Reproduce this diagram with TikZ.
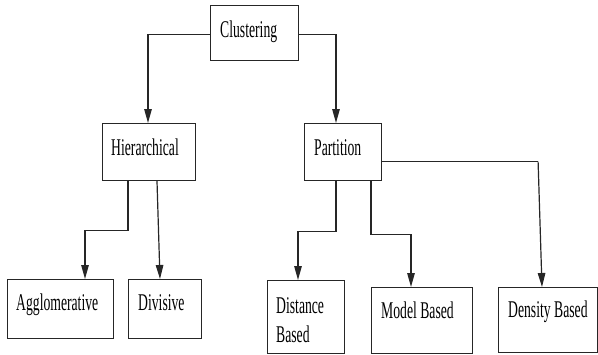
\documentclass[tikz,border=0pt]{standalone}
\usepackage{fontspec}
\newfontfamily\condfont{Liberation Serif}[FakeStretch=0.57]
\usetikzlibrary{arrows.meta,calc}
\begin{document}
\begin{tikzpicture}[x=1pt,y=-1pt,
  box/.style={draw=black!85,line width=1.1pt,rectangle,inner sep=0pt,anchor=north west},
  lbl/.style={anchor=base west,inner sep=0pt,font=\condfont\fontsize{24}{29}\selectfont},
  arr/.style={draw=black!85,line width=1.2pt,-{Triangle[length=14pt,width=7.5pt]}},
  ln/.style={draw=black!85,line width=1.2pt}]
\useasboundingbox (0,0) rectangle (598,354);
% boxes
\node[box,minimum width=88pt,minimum height=55pt] (clus) at (210,5) {};
\node[box,minimum width=93pt,minimum height=57pt] (hier) at (102,123) {};
\node[box,minimum width=77pt,minimum height=57pt] (part) at (304,123) {};
\node[box,minimum width=106pt,minimum height=59pt] (aggl) at (7,279) {};
\node[box,minimum width=73pt,minimum height=59pt] (divi) at (128,279) {};
\node[box,minimum width=77pt,minimum height=73pt] (dist) at (267,280) {};
\node[box,minimum width=101pt,minimum height=66pt] (mode) at (371,287) {};
\node[box,minimum width=99pt,minimum height=65pt] (dens) at (498,287) {};
% labels
\node[lbl] (tclus) at (220,37) {Clustering};
\node[lbl] (thier) at (111,155) {Hierarchical};
\node[lbl] (tpart) at (314,155) {Partition};
\node[lbl] (taggl) at (16,310) {Agglomerative};
\node[lbl] (tdivi) at (138,310) {Divisive};
\node[lbl] (tdist1) at (276,313) {Distance};
\node[lbl] (tdist2) at (276,342) {Based};
\node[lbl] (tmode) at (381,318) {Model Based};
\node[lbl] (tdens) at (508,317) {Density Based};
% connectors
\draw[arr] ([yshift=-1.5pt]clus.west) -| ([xshift=46pt]hier.north west);
\draw[arr] ([yshift=-1.5pt]clus.east) -| ([xshift=32pt]part.north west);
\draw[arr] ([xshift=26pt]hier.south west) -- ++(0,49) -| ([xshift=78pt]aggl.north west);
\draw[arr] ([xshift=55pt]hier.south west) -- ([xshift=32pt]divi.north west);
\draw[arr] ([xshift=32pt]part.south west) -- ++(0,50) -| ([xshift=31pt]dist.north west);
\draw[arr] ([xshift=67pt]part.south west) -- ++(0,53) -| ([xshift=40pt]mode.north west);
\draw[ln] ([yshift=-9.5pt]part.east) -- ++(156,0) coordinate (pbend);
\draw[arr] (pbend) -- ([xshift=44pt]dens.north west);
\end{tikzpicture}
\end{document}
